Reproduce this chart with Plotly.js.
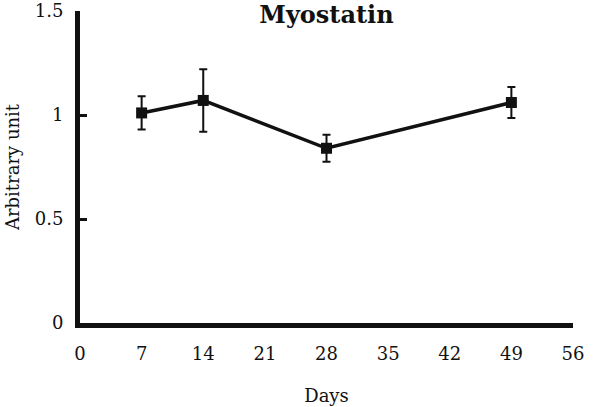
<!DOCTYPE html>
<html>
<head>
<meta charset="utf-8">
<script src="https://cdn.plot.ly/plotly-3.0.1.min.js"></script>
<style>
  html, body { margin: 0; padding: 0; background: #fff; }
  #chart { width: 600px; height: 407px; }
</style>
</head>
<body>
<div id="chart"></div>
<script>
// values
const days = [7, 14, 28, 49];
const myostatin = [1.01, 1.07, 0.84, 1.06];
const errors = [0.08, 0.15, 0.065, 0.075];
const xTicks = [0, 7, 14, 21, 28, 35, 42, 49, 56];
const yTicks = [0, 0.5, 1, 1.5];
const yTickText = ["0", "0.5", "1", "1.5"];

const fontFamily = "DejaVu Serif, Liberation Serif, serif";

const trace = {
  type: "scatter",
  mode: "lines+markers",
  x: days,
  y: myostatin,
  line: { color: "#111", width: 3.5 },
  marker: { symbol: "square", size: 11, color: "#111" },
  error_y: {
    type: "data",
    array: errors,
    visible: true,
    color: "#111",
    thickness: 2,
    width: 4,
  },
  hoverinfo: "x+y",
};

const layout = {
  width: 600,
  height: 407,
  paper_bgcolor: "#fff",
  plot_bgcolor: "#fff",
  showlegend: false,
  font: { family: fontFamily, color: "#111", size: 18 },
  margin: { l: 80, r: 27, t: 11, b: 84, pad: 0 },
  title: {
    text: "<b>Myostatin</b>",
    font: { family: fontFamily, size: 24, color: "#111" },
    x: 0.5,
    xref: "paper",
    y: 0.965,
    yref: "container",
    yanchor: "middle",
  },
  xaxis: {
    range: [0, 56],
    tickvals: xTicks,
    ticktext: xTicks.map(String),
    showgrid: false,
    zeroline: false,
    showline: true,
    linecolor: "#111",
    linewidth: 5,
    ticks: "",
    ticklabelstandoff: 10,
    tickfont: { size: 18 },
    title: { text: "Days", font: { size: 18 }, standoff: 28 },
    fixedrange: true,
  },
  yaxis: {
    range: [0, 1.5],
    tickvals: yTicks,
    ticktext: yTickText,
    showgrid: false,
    zeroline: false,
    showline: true,
    linecolor: "#111",
    linewidth: 5,
    ticks: "inside",
    ticklen: 7,
    tickwidth: 3,
    tickcolor: "#111",
    ticklabelstandoff: 8,
    ticklabeloverflow: "allow",
    tickfont: { size: 18 },
    title: { text: "Arbitrary unit", font: { size: 18 }, standoff: 12 },
    fixedrange: true,
  },
};

Plotly.newPlot(document.getElementById("chart"), [trace], layout, {
  displayModeBar: false,
  staticPlot: true,
});
</script>
</body>
</html>
